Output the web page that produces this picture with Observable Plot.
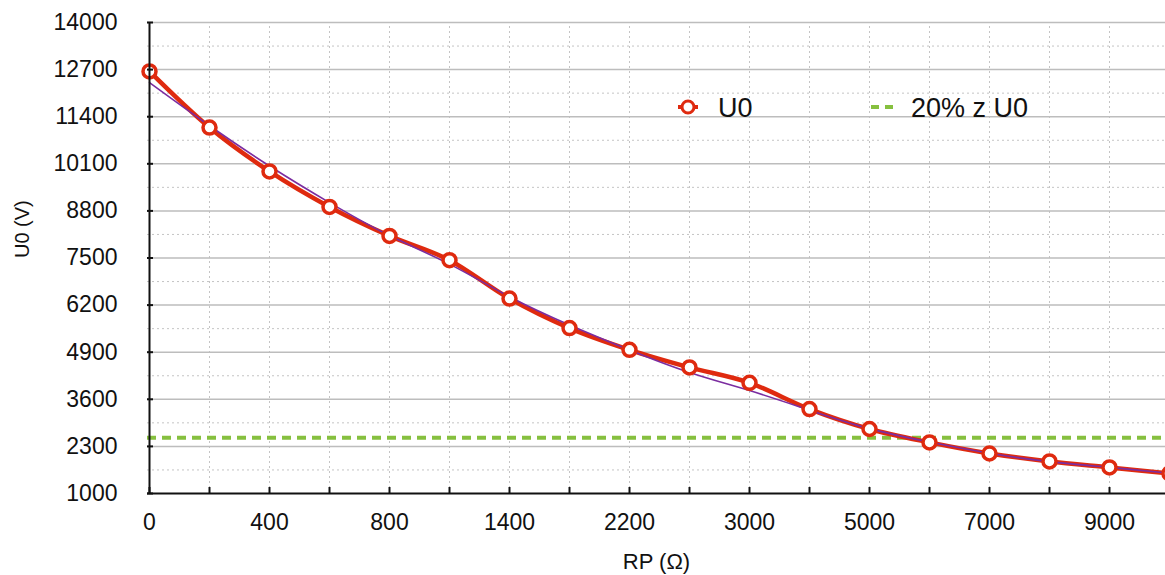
<!DOCTYPE html>
<html>
<head>
<meta charset="utf-8">
<script src="https://cdn.jsdelivr.net/npm/d3@7"></script>
<script src="https://cdn.jsdelivr.net/npm/@observablehq/plot@0.6"></script>
<style>
  html, body { margin: 0; padding: 0; background: #fff; overflow: hidden; }
  #wrap { position: relative; width: 1165px; height: 575px; font-family: "Liberation Sans", Arial, sans-serif; }
  #legend { position: absolute; left: 0; top: 0; pointer-events: none; }
</style>
</head>
<body>
<div id="wrap"></div>
<script>
// ---- data ----
const categories = ["0","200","400","600","800","1100","1400","1800","2200","2600","3000","4000","5000","6000","7000","8000","9000","10000"];
const xTickLabels = ["0","400","800","1400","2200","3000","5000","7000","9000"];
const u0 = [12650, 11100, 9890, 8910, 8110, 7440, 6380, 5565, 4965, 4480, 4055, 3330, 2780, 2410, 2105, 1885, 1720, 1555];
const trend = [12340, 11150, 10040, 9030, 8120, 7330, 6430, 5650, 4960, 4340, 3840, 3300, 2790, 2420, 2110, 1880, 1720, 1560];
const threshold = [2540];
const yTicks = [1000, 2300, 3600, 4900, 6200, 7500, 8800, 10100, 11400, 12700, 14000];
const seriesNames = ["U0", "20% z U0"];

const red = "#df2a0f", purple = "#7b2da0", green = "#86c03f";
const yMinor = d3.pairs(yTicks).map(([a, b]) => (a + b) / 2);

const rows = categories.map((c, i) => ({c, u: u0[i], t: trend[i]}));

const chart = Plot.plot({
  width: 1165,
  height: 575,
  marginLeft: 147,
  marginRight: 0,
  marginTop: 22,
  marginBottom: 82,
  style: {fontFamily: "Liberation Sans, Arial, sans-serif", background: "#fff", overflow: "hidden"},
  x: {type: "point", domain: categories, range: [147, 1171], padding: 0},
  y: {domain: [1000, 14000]},
  marks: [
    Plot.ruleY(yMinor, {stroke: "#c4c4c4", strokeWidth: 1, strokeDasharray: "2,3"}),
    Plot.ruleX(categories.slice(1), {x: d => d, y1: 1000, y2: 14000, stroke: "#c4c4c4", strokeWidth: 1, strokeDasharray: "2,3"}),
    Plot.ruleY(yTicks.slice(1), {stroke: "#bdbdbd", strokeWidth: 1.5}),
    Plot.ruleY(threshold, {stroke: green, strokeWidth: 4, strokeDasharray: "9,6"}),
    Plot.line(rows, {x: "c", y: "u", stroke: red, strokeWidth: 4.5, curve: "monotone-x"}),
    Plot.line(rows, {x: "c", y: "t", stroke: purple, strokeWidth: 1.6, curve: "natural"}),
    Plot.dot(rows, {x: "c", y: "u", r: 6.5, fill: "#fff", stroke: red, strokeWidth: 3.5}),
    Plot.ruleY([1000], {stroke: "#111", strokeWidth: 2}),
    Plot.ruleX([categories[0]], {y1: 1000, y2: 14000, stroke: "#111", strokeWidth: 2}),
    Plot.axisY(yTicks, {anchor: "left", tickSize: -6, stroke: "#111", strokeWidth: 2, label: null, tickFormat: () => ""}),
    Plot.axisX(categories, {anchor: "bottom", tickSize: -6, stroke: "#111", strokeWidth: 2, label: null, tickFormat: () => ""}),
    Plot.text(yTicks, {y: d => d, frameAnchor: "left", dx: -30, textAnchor: "end", lineAnchor: "middle", fontSize: 23, fill: "#111", text: d => String(d)}),
    Plot.text(xTickLabels, {x: d => d, frameAnchor: "bottom", dy: 29, lineAnchor: "middle", fontSize: 23, fill: "#111", text: d => d}),
    Plot.text(["U0 (V)"], {frameAnchor: "left", dx: -125, rotate: -90, fontSize: 20, fill: "#111"}),
    Plot.text(["RP (Ω)"], {frameAnchor: "bottom", dy: 75, fontSize: 22, fill: "#111"})
  ]
});

const wrap = document.getElementById("wrap");
wrap.appendChild(chart);

// legend overlay
const leg = d3.create("svg").attr("id", "legend").attr("width", 1165).attr("height", 575);
const g1 = leg.append("g").attr("transform", "translate(688,107)");
g1.append("line").attr("x1", -10).attr("x2", 10).attr("stroke", red).attr("stroke-width", 4);
g1.append("circle").attr("r", 6).attr("fill", "#fff").attr("stroke", red).attr("stroke-width", 3);
g1.append("text").attr("x", 30).attr("dy", "0.36em").attr("font-size", 27).attr("fill", "#111")
  .attr("font-family", "Liberation Sans, Arial, sans-serif").text(seriesNames[0]);
const g2 = leg.append("g").attr("transform", "translate(871,107)");
g2.append("line").attr("x1", 0).attr("x2", 22).attr("stroke", green).attr("stroke-width", 4).attr("stroke-dasharray", "8,6");
g2.append("text").attr("x", 40).attr("dy", "0.36em").attr("font-size", 27).attr("fill", "#111")
  .attr("font-family", "Liberation Sans, Arial, sans-serif").text(seriesNames[1]);
wrap.appendChild(leg.node());
</script>
</body>
</html>
